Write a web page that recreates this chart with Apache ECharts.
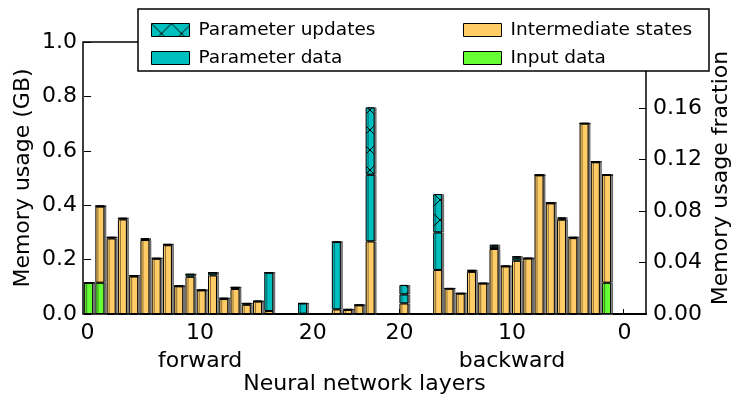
<!DOCTYPE html>
<html><head><meta charset="utf-8">
<script src="https://cdn.jsdelivr.net/npm/echarts@6/dist/echarts.min.js"></script>
<style>html,body{margin:0;padding:0;background:#fff}#c{width:732px;height:396px}</style>
</head><body><div id="c"></div>
<script>
// layer slots 0..49 (forward 0..~24, backward ~24..48)
const slots = Array.from({length: 50}, (_, i) => String(i));
const inputData = [0.115,0.115,0,0,0,0,0,0,0,0, 0,0,0,0,0,0,0,0,0,0, 0,0,0,0,0,0,0,0,0,0, 0,0,0,0,0,0,0,0,0,0, 0,0,0,0,0,0,0.115,0,0,0];
const intermediateStates = [0,0.280,0.278,0.348,0.138,0.272,0.203,0.253,0.102,0.137, 0.087,0.142,0.055,0.092,0.034,0.046,0.011,0,0,0.001, 0,0,0.017,0.015,0.032,0.267,0,0,0.039,0, 0,0.162,0.093,0.075,0.155,0.112,0.239,0.175,0.196,0.204, 0.510,0.407,0.347,0.279,0.700,0.558,0.396,0,0,0];
const parameterData = [0,0.002,0.004,0.004,0.003,0.003,0.002,0.003,0.001,0.009, 0.001,0.010,0.003,0.006,0.005,0.001,0.141,0,0,0.038, 0,0,0.248,0.002,0.001,0.245,0,0,0.033,0, 0,0.138,0.001,0.001,0.004,0.001,0.008,0.001,0.009,0.001, 0.001,0.002,0.004,0.003,0.001,0.002,0,0,0,0];
const parameterUpdates = [0,0,0,0,0,0.003,0,0,0,0, 0,0,0,0,0,0,0,0,0,0, 0,0,0,0,0,0.248,0,0,0.035,0, 0,0.141,0,0,0.003,0,0.008,0,0.008,0, 0,0,0.004,0,0,0,0,0,0,0];

const xTickValues = [0.3, 10.3, 20.3, 28, 38, 48];
const xTickLabels = ['0', '10', '20', '20', '10', '0'];
const xSubLabels  = ['', 'forward', '', '', 'backward', ''];
const xTickMarks = [0.3, 10.3, 28, 38, 47.9];
const rightTicks = [0, 0.04, 0.08, 0.12, 0.16];

const FONT = 'DejaVu Sans';

function hatchCanvas() {
  const c = document.createElement('canvas');
  c.width = 20; c.height = 20;
  const g = c.getContext('2d');
  g.fillStyle = '#00BFBF'; g.fillRect(0, 0, 20, 20);
  g.strokeStyle = '#000'; g.lineWidth = 1;
  g.beginPath();
  g.moveTo(-2, -2); g.lineTo(22, 22);
  g.moveTo(22, -2); g.lineTo(-2, 22);
  g.stroke();
  return c;
}

const chart = echarts.init(document.getElementById('c'), null, {renderer: 'canvas'});

function nearestIdx(v) {
  let best = 0, bd = Infinity;
  xTickValues.forEach((t, i) => { const d = Math.abs(t - v); if (d < bd) { bd = d; best = i; } });
  return best;
}

function mk(name, arr, color) {
  return {
    name, type: 'bar', stack: 'mem', barWidth: 9, xAxisIndex: 0, yAxisIndex: 0,
    data: arr,
    itemStyle: {color, borderColor: '#000', borderWidth: 1,
      shadowColor: 'rgba(0,0,0,0.45)', shadowOffsetX: 2, shadowOffsetY: 0, shadowBlur: 0},
    emphasis: {disabled: true}
  };
}

const legendCommon = {
  orient: 'vertical', top: 15, itemWidth: 38, itemHeight: 13, itemGap: 8, icon: 'rect',
  selectedMode: false, z: 5,
  itemStyle: {shadowBlur: 0, shadowOffsetX: 0, shadowColor: 'transparent', borderColor: '#000', borderWidth: 1},
  textStyle: {fontSize: 18.5, color: '#000', fontFamily: FONT, lineHeight: 20, padding: [0, 0, 0, 4]}
};

chart.setOption({
  animation: false,
  backgroundColor: '#fff',
  textStyle: {fontFamily: FONT},
  grid: {left: 83, right: 86, top: 42, bottom: 82, outerBoundsMode: 'none', containLabel: false,
    show: true, borderColor: '#000', borderWidth: 1.5, backgroundColor: 'transparent'},
  legend: [
    Object.assign({}, legendCommon, {left: 146, data: ['Parameter updates', 'Parameter data']}),
    Object.assign({}, legendCommon, {left: 458, data: ['Intermediate states', 'Input data']})
  ],
  graphic: [{type: 'rect', z: 3, shape: {x: 138, y: 9, width: 571, height: 62},
    style: {fill: '#fff', stroke: '#000', lineWidth: 1.5}}],
  xAxis: [{
    type: 'category', data: slots, show: false, boundaryGap: true
  }, {
    type: 'value', position: 'bottom', min: -0.1, max: 49.9,
    axisLine: {show: false}, splitLine: {show: false},
    axisTick: {show: true, inside: true, length: 5, customValues: xTickMarks, lineStyle: {color: '#000', width: 1}},
    axisLabel: {customValues: xTickValues, fontSize: 22, color: '#000', fontFamily: FONT, margin: 5, lineHeight: 28,
      formatter: v => { const i = nearestIdx(v); return xSubLabels[i] ? xTickLabels[i] + '\n' + xSubLabels[i] : xTickLabels[i]; }},
    name: 'Neural network layers', nameLocation: 'middle', nameGap: 59, nameMoveOverlap: false,
    nameTextStyle: {fontSize: 22, color: '#000', fontFamily: FONT}
  }],
  yAxis: [{
    type: 'value', position: 'left', min: 0, max: 1, interval: 0.2,
    axisLine: {show: false}, splitLine: {show: false},
    axisTick: {show: true, inside: true, length: 7, lineStyle: {color: '#000', width: 1}},
    axisLabel: {fontSize: 22, color: '#000', fontFamily: FONT, margin: 6, formatter: v => v.toFixed(1)},
    name: 'Memory usage (GB)', nameLocation: 'middle', nameRotate: 90, nameGap: 49, nameMoveOverlap: false,
    nameTextStyle: {fontSize: 22, color: '#000', fontFamily: FONT}
  }, {
    type: 'value', position: 'right', min: 0, max: 0.2116,
    axisLine: {show: false}, splitLine: {show: false},
    axisTick: {show: true, inside: true, length: 7, customValues: rightTicks, lineStyle: {color: '#000', width: 1}},
    axisLabel: {customValues: rightTicks, fontSize: 22, color: '#000', fontFamily: FONT, margin: 7, formatter: v => v.toFixed(2)},
    name: 'Memory usage fraction', nameLocation: 'middle', nameRotate: 90, nameGap: 64, nameMoveOverlap: false,
    nameTextStyle: {fontSize: 22, color: '#000', fontFamily: FONT}
  }],
  series: [
    mk('Input data', inputData, '#66FF33'),
    mk('Intermediate states', intermediateStates, '#FFCC66'),
    mk('Parameter data', parameterData, '#00BFBF'),
    mk('Parameter updates', parameterUpdates, {image: hatchCanvas(), repeat: 'repeat'})
  ]
});
</script></body></html>
